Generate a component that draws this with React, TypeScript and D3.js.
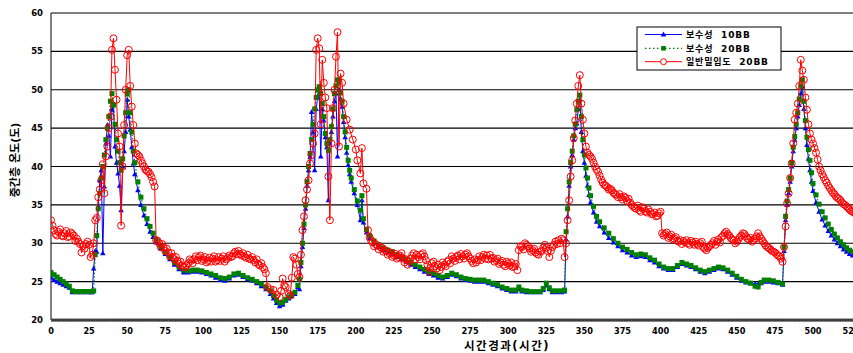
import React from "react";
import * as d3 from "d3";

// [hour, temperature]
const series10BB: [number, number][] = [[0,25.5],[2,25.2],[4,25.0],[6,24.8],[8,24.6],[10,24.4],[12,24.2],[14,23.6],[17,23.6],[20,23.6],[23,23.6],[26,23.6],[27,23.6],[28,26.7],[29,29.0],[30,28.9],[31,34.8],[32,38.2],[33,39.5],[34,28.7],[35,37.4],[36,43.0],[37,45.4],[38,44.0],[39,41.3],[40,47.4],[41,48.0],[42,42.6],[43,40.5],[44,39.1],[45,37.5],[46,34.3],[47,40.0],[48,42.0],[49,44.5],[50,48.7],[51,46.5],[52,44.8],[53,42.5],[54,40.4],[55,39],[57,36.9],[59,35.0],[61,33.6],[63,32.5],[65,31.5],[67,30.8],[69,30.1],[72,29.3],[75,28.6],[78,27.9],[81,27.2],[84,26.6],[87,26.2],[90,26.2],[93,26.3],[96,26.3],[99,26.2],[102,26.0],[105,25.8],[108,25.5],[111,25.2],[114,25.1],[117,25.4],[120,25.8],[123,25.9],[126,25.6],[129,25.3],[132,25.1],[135,24.8],[138,24.4],[141,24.0],[144,23.4],[146,22.8],[148,22.2],[150,21.8],[152,22.0],[154,22.5],[156,22.8],[158,23.1],[160,23.4],[162,24.3],[163,24.0],[164,27.0],[165,29.5],[166,32.0],[167,34.5],[168,37.5],[169,39.5],[170,41.2],[171,47.1],[172,44.5],[173,39.5],[174,47.5],[175,49.0],[176,49.5],[177,41.3],[178,47.5],[179,46.0],[180,43.8],[181,42.5],[182,35.6],[183,43.0],[184,44.5],[185,46.5],[186,48.5],[187,49.5],[188,41.3],[189,50.0],[190,48.8],[191,47.8],[192,45.8],[193,43.8],[194,41.8],[195,40.2],[196,39.0],[197,38.0],[199,36.5],[201,35.0],[203,33.0],[204,35.6],[205,32.7],[207,31.4],[209,30.7],[212,30.0],[215,29.5],[218,29.1],[221,28.8],[224,28.6],[227,28.2],[230,27.9],[233,27.6],[236,27.2],[239,26.9],[242,26.6],[245,26.3],[248,26.0],[251,25.8],[254,25.5],[257,25.4],[260,25.6],[263,25.9],[266,25.7],[269,25.4],[272,25.2],[275,25.1],[278,25.0],[281,25.0],[284,25.0],[287,24.8],[290,24.6],[293,24.4],[296,24.1],[299,23.9],[302,23.7],[305,23.7],[307,24.0],[309,23.7],[312,23.6],[315,23.6],[318,23.6],[321,23.6],[323,23.9],[325,24.5],[327,24.0],[329,23.6],[332,23.6],[335,23.6],[337,23.7],[338,30.5],[339,33.5],[340,37.5],[341,40.0],[342,41.5],[343,43.5],[344,45.0],[345,45.6],[346,47.5],[347,48.7],[348,44.5],[349,42.0],[350,40.5],[351,38.8],[352,37.5],[353,36.3],[354,35.3],[356,34.0],[358,32.8],[360,32.2],[363,31.4],[366,30.7],[369,30.1],[372,29.6],[375,29.1],[378,28.8],[381,28.4],[384,28.2],[387,28.3],[390,28.2],[393,27.8],[396,27.5],[399,27.0],[402,26.7],[405,26.5],[408,26.5],[411,26.9],[414,27.3],[417,27.1],[420,26.9],[423,26.6],[426,26.3],[429,26.1],[432,26.3],[435,26.5],[438,26.7],[441,26.6],[444,26.3],[447,25.9],[450,25.5],[453,25.1],[456,24.9],[459,24.8],[462,24.7],[464,24.7],[466,24.8],[468,25.0],[471,25.0],[474,24.9],[477,24.8],[480,24.6],[481,29.0],[482,33.0],[483,35.0],[484,36.5],[485,38.0],[486,40.0],[487,42.0],[488,43.5],[489,45.0],[490,46.5],[491,48.0],[492,49.5],[493,50.4],[494,47.5],[495,45.0],[496,42.8],[497,41.0],[498,39.5],[499,38.0],[500,36.8],[502,35.3],[504,34.1],[506,33.1],[508,32.3],[510,31.6],[512,31.0],[514,30.5],[516,30.0],[518,29.6],[520,29.2],[522,28.9],[524,28.6],[526,28.4],[528,28.2],[530,28.0]];

const series20BB: [number, number][] = [[0,26.2],[2,25.9],[4,25.6],[6,25.3],[8,25.0],[10,24.7],[12,24.4],[14,23.8],[16,23.7],[18,23.7],[20,23.7],[22,23.7],[24,23.7],[26,23.7],[28,23.8],[29,28.5],[30,31],[31,34.5],[32,36.5],[33,38.5],[34,40],[35,41.5],[36,43.5],[37,45],[38,46.5],[39,48.5],[40,49.5],[41,48],[42,45.5],[43,43.5],[44,42],[45,40.5],[46,39.5],[47,41],[48,44],[49,47],[50,49.5],[51,50],[52,47],[53,44.5],[54,42],[55,40.5],[57,38],[59,36],[61,34.5],[63,33.2],[65,32.2],[67,31.3],[69,30.5],[72,29.6],[75,28.8],[78,28.2],[81,27.5],[84,26.9],[87,26.5],[90,26.4],[93,26.5],[96,26.5],[99,26.4],[102,26.2],[105,26.0],[108,25.8],[111,25.5],[114,25.4],[117,25.6],[120,26.0],[123,26.1],[126,25.8],[129,25.5],[132,25.3],[135,25.0],[138,24.7],[141,24.3],[144,23.8],[146,23.2],[148,22.6],[150,22.2],[152,22.3],[154,22.7],[156,23.0],[158,23.3],[160,23.6],[162,24.5],[163,25.3],[164,27.5],[165,30.0],[166,32.5],[167,35.0],[168,38.0],[169,40.0],[170,41.7],[171,43.5],[172,45.5],[173,47.5],[174,49.0],[175,50.0],[176,50.4],[177,49.5],[178,48.2],[179,46.5],[180,44.3],[181,43],[182,42.1],[183,43.5],[184,45.2],[185,47.5],[186,49.5],[187,50.5],[188,51.3],[189,51.0],[190,49.6],[191,48.5],[192,46.5],[193,44.5],[194,42.5],[195,40.8],[196,39.5],[197,38.5],[199,37],[201,35.5],[203,34.3],[204,36.2],[205,33.2],[207,31.8],[209,31.0],[212,30.3],[215,29.8],[218,29.4],[221,29.1],[224,28.9],[227,28.5],[230,28.2],[233,27.9],[236,27.5],[239,27.2],[242,26.9],[245,26.6],[248,26.3],[251,26.1],[254,25.8],[257,25.6],[260,25.8],[263,26.1],[266,25.9],[269,25.6],[272,25.4],[275,25.3],[278,25.2],[281,25.2],[284,25.2],[287,25.0],[290,24.8],[293,24.6],[296,24.3],[299,24.1],[302,23.9],[305,23.9],[307,24.3],[309,23.9],[312,23.8],[315,23.7],[318,23.7],[321,23.7],[323,24.1],[325,24.8],[327,24.2],[329,23.8],[332,23.8],[335,23.8],[337,23.9],[338,31.5],[339,34.5],[340,38.0],[341,40.5],[342,42],[343,44],[344,45.5],[345,47.4],[346,48.5],[347,49.3],[348,46.5],[349,43.5],[350,41.5],[351,39.8],[352,38.5],[353,37.2],[354,36.2],[356,34.8],[358,33.5],[360,32.8],[363,32.0],[366,31.3],[369,30.6],[372,30.0],[375,29.5],[378,29.2],[381,28.8],[384,28.5],[387,28.6],[390,28.5],[393,28.1],[396,27.8],[399,27.3],[402,26.9],[405,26.7],[408,26.7],[411,27.1],[414,27.5],[417,27.3],[420,27.1],[423,26.8],[426,26.5],[429,26.3],[432,26.5],[435,26.7],[438,26.9],[441,26.8],[444,26.5],[447,26.1],[450,25.7],[453,25.3],[456,25.0],[459,24.8],[462,24.4],[464,24.3],[466,24.9],[468,25.2],[471,25.2],[474,25.1],[477,24.9],[480,24.7],[481,29.5],[482,33.5],[483,35.5],[484,37],[485,38.5],[486,40.5],[487,42.5],[488,43.9],[489,45.5],[490,47],[491,48.8],[492,50.5],[493,51.3],[494,48.5],[495,46],[496,43.8],[497,42.2],[498,40.8],[499,39.2],[500,37.8],[502,36.3],[504,35.1],[506,34.1],[508,33.3],[510,32.5],[512,31.8],[514,31.2],[516,30.7],[518,30.2],[520,29.8],[522,29.4],[524,29.1],[526,28.9],[528,28.7],[530,28.5]];

const seriesGeneral20BBMain: [number, number][] = [[0,33.0],[1,32.3],[2,31.7],[3,31.2],[5,31.5],[7,31.0],[9,31.3],[11,30.8],[13,31.4],[15,31.0],[17,30.6],[19,29.9],[20,28.8],[21,29.6],[23,29.9],[25,29.8],[26,28.2],[27,28.5],[28,30.0],[29,33.0],[30,33.3],[31,36.0],[32,37.0],[33,38.2],[34,40.3],[35,36.5],[36,41.3],[37,42.6],[38,45.0],[39,46.5],[40,55.2],[41,56.7],[42,52.6],[43,48.7],[44,44.3],[45,42.6],[46,32.3],[47,40.0],[48,45.4],[49,50.0],[50,54.5],[51,55.2],[52,50.5],[53,47.8],[54,45.4],[55,43.0],[56,41.7],[58,41.3],[60,40.4],[62,39.6],[64,39.3],[66,38.6],[68,37.4],[69,30.4],[71,30.0],[74,29.4],[77,28.8],[80,28.2],[83,27.7],[86,27.1],[88,26.9],[90,27.4],[92,27.7],[94,27.9],[97,28.2],[100,27.9],[103,27.7],[106,28.0],[109,27.8],[112,28.0],[115,27.9],[118,28.2],[121,28.9],[124,28.6],[127,28.3],[130,28.0],[133,27.8],[136,27.3],[139,26.9],[141,26.1],[142,24.3],[144,24.0],[146,23.9],[148,23.3],[150,23.0],[151,23.8],[152,25.4],[153,24.5],[154,24.3],[156,23.4],[157,23.2],[158,25.5],[159,28.2],[160,28.0],[161,27.2],[162,26.0],[163,25.6],[164,28.5],[165,31.7],[166,33.5],[167,35.6],[168,37.0],[169,38.2],[170,40.4],[171,41.5],[172,43.0],[173,44.3],[174,55.2],[175,56.7],[176,55.4],[177,45.5],[178,53.9],[179,50.9],[180,49.0],[181,47.6],[182,38.7],[183,33.0],[184,43.0],[185,47.6],[186,50.0],[187,54.3],[188,57.5],[189,42.6],[190,52.1],[191,50.9],[192,48.2],[194,46.1],[196,44.8],[198,43.5],[200,42.2],[201,40.8],[203,39.1],[204,42.4],[205,37.8],[207,37.1],[208,31.7],[210,30.4],[213,29.9],[216,29.5],[219,29.1],[222,28.7],[225,28.4],[228,28.2],[230,28.7],[232,27.5],[234,27.2],[236,28.0],[238,28.7],[241,28.2],[244,28.7],[246,27.8],[248,26.3],[250,27.4],[252,27.0],[255,26.5],[258,27.2],[261,27.8],[264,28.0],[267,28.4],[270,28.3],[273,28.7],[275,28.0],[277,27.4],[280,27.8],[283,28.2],[286,28.4],[289,28.0],[292,27.8],[295,27.5],[297,27.2],[300,27.4],[303,26.9],[305,27.3],[306,26.5],[307,29.1],[309,29.5],[312,29.8],[314,29.3],[316,29.1],[318,28.8],[320,28.5],[322,29.0],[324,29.8],[326,29.0],[327,28.2],[329,29.5],[331,30.2],[333,30.4],[335,30.6],[336,30.4],[337,28.2],[338,30.0],[339,33.0],[340,35.6],[341,38.7],[342,40.8],[343,43.7],[344,46.0],[345,48.2],[346,50.5],[347,51.9],[348,48.2],[349,46.1],[350,44.3],[351,42.6],[353,41.5],[355,41.0],[357,40.0],[359,39.3],[361,38.3],[363,37.6],[365,37.3],[367,37.1],[369,36.6],[371,36.3],[374,36.0],[377,35.9],[380,35.3],[382,34.8],[384,34.5],[386,34.3],[389,34.5],[391,34.0],[393,34.1],[395,33.8],[397,33.5],[399,33.9],[400,34.1],[401,31.3],[403,31.2],[406,30.9],[409,30.6],[412,30.2],[415,30.3],[418,30.0],[421,30.1],[424,29.9],[426,30.0],[428,29.5],[430,29.1],[432,29.6],[434,30.0],[437,30.2],[440,30.8],[443,31.5],[445,31.0],[447,30.5],[450,30.2],[452,30.8],[454,31.3],[456,30.9],[458,30.5],[461,30.4],[463,30.9],[464,31.3],[466,30.6],[468,30.0],[470,29.5],[472,29.2],[474,28.9],[476,28.6],[478,28.3],[480,27.6],[481,29.5],[482,32.2],[483,35.2],[484,36.5],[485,38.5],[486,40.4],[487,43.0],[488,46.1],[489,47.0],[490,48.2],[491,50.5],[492,53.9],[493,52.5],[494,51.3],[495,49.0],[496,47.4],[497,45.5],[498,44.3],[500,43.0],[502,41.8],[504,40.0],[506,39.0],[508,38.2],[510,37.5],[512,36.9],[514,36.4],[516,35.9],[518,35.6],[520,35.1],[522,34.8],[524,34.4],[526,34.1],[528,33.8],[530,33.5]];

// additional hourly readings of the noisy band
const seriesGeneral20BBExtra: [number, number][] = [[4,31.0],[6,31.8],[8,30.9],[10,31.6],[12,30.9],[14,31.2],[16,30.3],[18,30.2],[22,29.3],[24,30.2],[57,41.5],[59,40.8],[61,40.0],[63,39.4],[65,39.0],[67,38.0],[70,30.3],[72,29.5],[73,29.9],[75,29.0],[76,29.3],[78,28.3],[79,28.7],[81,27.9],[82,28.2],[84,27.3],[85,27.6],[87,26.9],[89,27.1],[91,27.9],[93,27.4],[95,28.3],[96,27.8],[98,28.4],[99,27.7],[101,28.2],[102,27.5],[104,28.1],[105,27.6],[107,28.3],[108,27.6],[110,28.2],[111,27.7],[113,28.3],[114,27.6],[116,28.1],[117,28.4],[119,28.3],[120,28.7],[122,28.6],[123,29.0],[125,28.4],[126,28.7],[128,28.1],[129,28.5],[131,27.9],[132,28.2],[134,27.5],[135,27.9],[137,27.1],[138,27.4],[140,26.6],[209,30.8],[211,30.1],[212,29.6],[214,29.7],[215,29.2],[217,29.4],[218,28.9],[220,29.0],[221,28.5],[223,28.8],[224,28.2],[226,28.6],[227,28.0],[229,28.4],[231,28.0],[233,27.9],[235,27.6],[237,28.4],[239,27.9],[240,28.5],[242,27.9],[243,28.5],[245,28.3],[247,27.2],[249,26.8],[251,27.6],[253,26.7],[254,27.2],[256,26.9],[257,27.5],[259,27.0],[260,27.6],[262,27.4],[263,28.3],[265,27.7],[266,28.2],[268,27.9],[269,28.6],[271,28.0],[272,28.5],[274,28.3],[276,27.7],[278,27.9],[279,27.5],[281,28.3],[282,27.8],[284,28.5],[285,28.0],[287,27.9],[288,28.5],[290,28.1],[291,27.6],[293,28.0],[294,27.3],[296,27.7],[298,27.0],[299,27.6],[301,27.1],[302,27.5],[304,27.0],[308,29.6],[310,29.2],[311,30.0],[313,29.6],[315,28.9],[317,29.3],[319,28.6],[321,28.9],[323,29.4],[325,29.4],[328,29.0],[330,29.8],[332,29.9],[334,30.0],[352,41.8],[354,41.3],[356,40.5],[358,39.6],[360,38.8],[362,37.9],[364,37.5],[366,37.0],[368,36.9],[370,36.4],[372,36.0],[373,36.4],[375,35.7],[376,36.1],[378,35.5],[379,35.8],[381,35.0],[383,34.6],[385,34.9],[387,34.1],[388,34.7],[390,34.2],[392,34.4],[394,33.8],[396,34.0],[398,33.6],[402,31.0],[404,31.4],[405,30.7],[407,31.1],[408,30.5],[410,30.8],[411,30.3],[413,30.4],[414,29.9],[416,30.1],[417,30.4],[419,29.8],[420,30.3],[422,29.8],[423,30.2],[425,29.7],[427,30.2],[429,29.3],[431,29.4],[433,29.8],[435,30.3],[436,29.8],[438,30.5],[439,30.1],[441,31.0],[442,31.3],[444,31.2],[446,30.7],[448,30.4],[449,30.0],[451,30.5],[453,31.0],[455,31.2],[457,30.6],[459,30.7],[460,30.2],[462,30.6],[465,30.9],[467,30.3],[469,29.7],[471,29.4],[473,29.0],[475,28.8],[477,28.4],[479,28.0],[499,43.5],[501,42.4],[503,40.9],[505,39.5],[507,38.6],[509,37.9],[511,37.2],[513,36.6],[515,36.1],[517,35.8],[519,35.3],[521,35.0],[523,34.6],[525,34.2],[527,34.0],[529,33.6]];

const seriesGeneral20BB: [number, number][] = [...seriesGeneral20BBMain, ...seriesGeneral20BBExtra].sort(
  (a, b) => a[0] - b[0]
);

const xTicks = [0, 25, 50, 75, 100, 125, 150, 175, 200, 225, 250, 275, 300, 325, 350, 375, 400, 425, 450, 475, 500, 525];
const yTicks = [20, 25, 30, 35, 40, 45, 50, 55, 60];
const legendLabels = ["보수성  10BB", "보수성  20BB", "일반밀입도  20BB"];
const xTitle = "시간경과(시간)";
const yTitle = "중간층 온도(도)";

const W = 853;
const H = 353;
const FONT = "'DejaVu Sans', 'Noto Sans CJK KR', sans-serif";

export default function App() {
  const x = d3.scaleLinear().domain([0, 525]).range([51, 851.1]);
  const y = d3.scaleLinear().domain([20, 60]).range([320, 13]);
  const line = d3
    .line<[number, number]>()
    .x((d) => x(d[0]))
    .y((d) => y(d[1]));

  const tri = (cx: number, cy: number, s: number) =>
    `M${cx},${cy - s * 0.6}L${cx + s * 0.55},${cy + s * 0.4}L${cx - s * 0.55},${cy + s * 0.4}Z`;

  const legendX = 637;
  const legendY = 27;
  const rows = [34.5, 48.3, 61.7];

  return (
    <svg
      width={W}
      height={H}
      style={{ position: "absolute", left: 0, top: 0, background: "#fff" }}
    >
      <defs>
        <clipPath id="plot">
          <rect x={51} y={0} width={W - 51} height={321} />
        </clipPath>
      </defs>
      {yTicks.map((t) => (
        <line key={t} x1={51} x2={W} y1={y(t)} y2={y(t)} stroke="#000" strokeWidth={1.2} />
      ))}
      <line x1={51} x2={51} y1={y(60)} y2={y(20)} stroke="#000" strokeWidth={1} />
      <rect x={51} y={318.6} width={W - 51} height={3} fill="#333" />
      <line x1={51} x2={W} y1={320} y2={320} stroke="#888" strokeWidth={0.8} strokeDasharray="1 1.6" />

      {yTicks.map((t) => (
        <text
          key={t}
          x={43}
          y={y(t) + 3}
          textAnchor="end"
          fontFamily={FONT}
          fontWeight="bold"
          fontSize={8.5}
          fill="#000"
        >
          {t}
        </text>
      ))}
      {xTicks.map((t) => (
        <text
          key={t}
          x={x(t)}
          y={334}
          textAnchor="middle"
          fontFamily={FONT}
          fontWeight="bold"
          fontSize={8.2}
          fill="#000"
        >
          {t}
        </text>
      ))}
      <text
        x={507}
        y={350}
        textAnchor="middle"
        fontFamily={FONT}
        fontWeight="bold"
        fontSize={11.5}
        letterSpacing={1.5}
        fill="#000"
      >
        {xTitle}
      </text>
      <text
        transform={`translate(19,160) rotate(-90)`}
        textAnchor="middle"
        fontFamily={FONT}
        fontWeight="bold"
        fontSize={11}
        fill="#000"
      >
        {yTitle}
      </text>

      <g clipPath="url(#plot)">
        <path d={line(series10BB) || ""} fill="none" stroke="#0000ff" strokeWidth={1} />
        {series10BB.map((d, i) => (
          <path key={"b" + i} d={tri(x(d[0]), y(d[1]), 5)} fill="#0000ff" />
        ))}
        <path
          d={line(series20BB) || ""}
          fill="none"
          stroke="#008000"
          strokeWidth={1.2}
          strokeDasharray="1.5 2"
        />
        {series20BB.map((d, i) => (
          <rect
            key={"g" + i}
            x={x(d[0]) - 2.5}
            y={y(d[1]) - 2.5}
            width={5}
            height={5}
            fill="#008000"
          />
        ))}
        <path d={line(seriesGeneral20BB) || ""} fill="none" stroke="#ff0000" strokeWidth={1} />
        {seriesGeneral20BB.map((d, i) => (
          <circle
            key={"r" + i}
            cx={x(d[0])}
            cy={y(d[1])}
            r={3.5}
            fill="none"
            stroke="#ff0000"
            strokeWidth={1}
          />
        ))}
      </g>

      <rect
        x={legendX}
        y={legendY}
        width={144}
        height={43}
        fill="#fff"
        stroke="#000"
        strokeWidth={1}
      />
      <line x1={645} x2={682} y1={rows[0]} y2={rows[0]} stroke="#0000ff" strokeWidth={1} />
      <path d={tri(663.5, rows[0], 5)} fill="#0000ff" />
      <line
        x1={645}
        x2={682}
        y1={rows[1]}
        y2={rows[1]}
        stroke="#008000"
        strokeWidth={1.2}
        strokeDasharray="1.5 2.5"
      />
      <rect x={661.2} y={rows[1] - 2.3} width={4.6} height={4.6} fill="#008000" />
      <line x1={645} x2={682} y1={rows[2]} y2={rows[2]} stroke="#ff0000" strokeWidth={1} />
      <circle cx={663.5} cy={rows[2]} r={3} fill="#fff" stroke="#ff0000" strokeWidth={1} />
      {legendLabels.map((l, i) => (
        <text
          key={l}
          x={686}
          y={rows[i] + 3.3}
          fontFamily={FONT}
          fontWeight="bold"
          fontSize={9}
          letterSpacing={0.8}
          fill="#000"
          style={{ whiteSpace: "pre" }}
        >
          {l}
        </text>
      ))}
    </svg>
  );
}
